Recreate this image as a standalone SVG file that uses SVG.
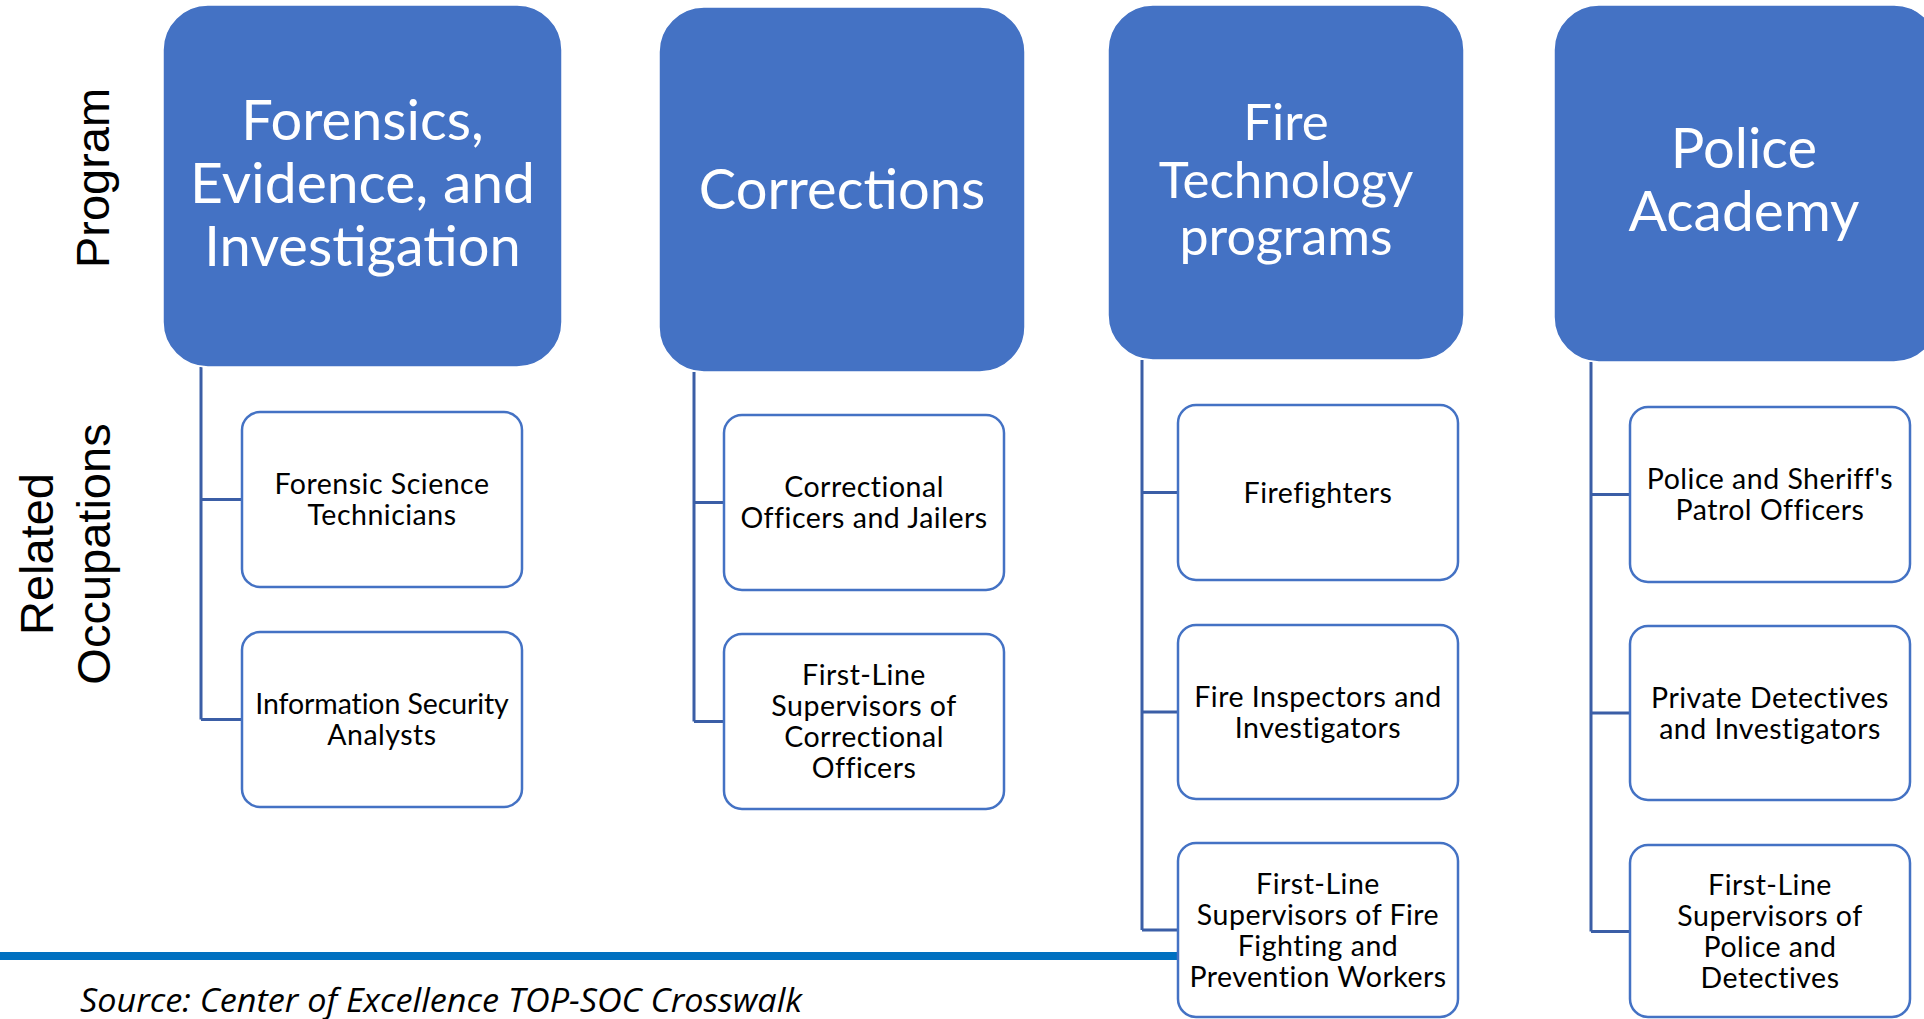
<svg xmlns="http://www.w3.org/2000/svg" width="1924" height="1019" viewBox="0 0 1924 1019">
<style>
.hdr{fill:#4472C4;stroke:#ffffff;stroke-width:1.5}
.occ{fill:#ffffff;stroke:#4472C4;stroke-width:2.5}
.ht{font-family:Lato,"Open Sans",sans-serif;fill:#ffffff;text-anchor:middle;font-size:56px}
.ot{font-family:Lato,"Open Sans",sans-serif;fill:#000000;text-anchor:middle;font-size:28.5px;letter-spacing:0.5px}
.side{font-family:"Liberation Sans",Arial,sans-serif;fill:#000000;text-anchor:middle;font-size:47px}
.conn{fill:none;stroke:#3B5EA6;stroke-width:3}
</style>
<rect width="1924" height="1019" fill="#ffffff"/>
<rect id="rule" x="0" y="952" width="1180" height="8" fill="#0070C0"/>
<text class="side" transform="translate(109,178) rotate(-90)">Program</text>
<text class="side" transform="translate(53,554) rotate(-90)">Related</text>
<text class="side" transform="translate(110,554) rotate(-90)">Occupations</text>
<g id="connectors">
<path class="conn" d="M201 367 V719.5 M201 499.5 H242 M201 719.5 H242"/>
<path class="conn" d="M694 372 V721.5 M694 502.5 H724 M694 721.5 H724"/>
<path class="conn" d="M1142 360 V930 M1142 492.5 H1178 M1142 712 H1178 M1142 930 H1178"/>
<path class="conn" d="M1591 362 V931.5 M1591 494.5 H1630 M1591 713 H1630 M1591 931.5 H1630"/>
</g>
<g id="hdr-forensics">
<rect class="hdr" x="163" y="5" width="399" height="362" rx="45"/>
<text class="ht" x="362.5" y="140">Forensics,</text>
<text class="ht" x="362.5" y="203" style="font-size:57px">Evidence, and</text>
<text class="ht" x="362.5" y="266">Investigation</text>
</g>
<g id="occ-forensic-science">
<rect class="occ" x="242" y="412" width="280" height="175" rx="18"/>
<text class="ot" x="382" y="494">Forensic Science</text>
<text class="ot" x="382" y="525">Technicians</text>
</g>
<g id="occ-info-security">
<rect class="occ" x="242" y="632" width="280" height="175" rx="18"/>
<text class="ot" x="382" y="714" style="letter-spacing:-0.1px">Information Security</text>
<text class="ot" x="382" y="745">Analysts</text>
</g>
<g id="hdr-corrections">
<rect class="hdr" x="659" y="7" width="366" height="365" rx="45"/>
<text class="ht" x="842" y="209">Corrections</text>
</g>
<g id="occ-correctional-officers">
<rect class="occ" x="724" y="415" width="280" height="175" rx="18"/>
<text class="ot" x="864" y="497">Correctional</text>
<text class="ot" x="864" y="528">Officers and Jailers</text>
</g>
<g id="occ-correctional-supervisors">
<rect class="occ" x="724" y="634" width="280" height="175" rx="18"/>
<text class="ot" x="864" y="685">First-Line</text>
<text class="ot" x="864" y="716">Supervisors of</text>
<text class="ot" x="864" y="747">Correctional</text>
<text class="ot" x="864" y="778">Officers</text>
</g>
<g id="hdr-fire">
<rect class="hdr" x="1108" y="5" width="356" height="355" rx="45"/>
<text class="ht" x="1286" y="140" style="font-size:51px">Fire</text>
<text class="ht" x="1286" y="198" style="font-size:51px">Technology</text>
<text class="ht" x="1286" y="255" style="font-size:52px">programs</text>
</g>
<g id="occ-firefighters">
<rect class="occ" x="1178" y="405" width="280" height="175" rx="18"/>
<text class="ot" x="1318" y="502.5">Firefighters</text>
</g>
<g id="occ-fire-inspectors">
<rect class="occ" x="1178" y="625" width="280" height="174" rx="18"/>
<text class="ot" x="1318" y="706.5">Fire Inspectors and</text>
<text class="ot" x="1318" y="737.5">Investigators</text>
</g>
<g id="occ-fire-supervisors">
<rect class="occ" x="1178" y="843" width="280" height="174" rx="18"/>
<text class="ot" x="1318" y="893.5">First-Line</text>
<text class="ot" x="1318" y="924.5">Supervisors of Fire</text>
<text class="ot" x="1318" y="955.5">Fighting and</text>
<text class="ot" x="1318" y="986.5">Prevention Workers</text>
</g>
<g id="hdr-police">
<rect class="hdr" x="1554" y="5" width="385" height="357" rx="45"/>
<text class="ht" x="1744" y="168">Police</text>
<text class="ht" x="1744" y="231" style="font-size:57px">Academy</text>
</g>
<g id="occ-patrol-officers">
<rect class="occ" x="1630" y="407" width="280" height="175" rx="18"/>
<text class="ot" x="1770" y="489">Police and Sheriff's</text>
<text class="ot" x="1770" y="520">Patrol Officers</text>
</g>
<g id="occ-private-detectives">
<rect class="occ" x="1630" y="626" width="280" height="174" rx="18"/>
<text class="ot" x="1770" y="707.5">Private Detectives</text>
<text class="ot" x="1770" y="738.5">and Investigators</text>
</g>
<g id="occ-police-supervisors">
<rect class="occ" x="1630" y="845" width="280" height="172" rx="18"/>
<text class="ot" x="1770" y="895">First-Line</text>
<text class="ot" x="1770" y="926">Supervisors of</text>
<text class="ot" x="1770" y="957">Police and</text>
<text class="ot" x="1770" y="988">Detectives</text>
</g>
<text x="80" y="1012" font-family="'Open Sans','Liberation Sans',sans-serif" font-style="italic" font-size="33" fill="#000000" textLength="722" lengthAdjust="spacingAndGlyphs">Source: Center of Excellence TOP-SOC Crosswalk</text>
</svg>
